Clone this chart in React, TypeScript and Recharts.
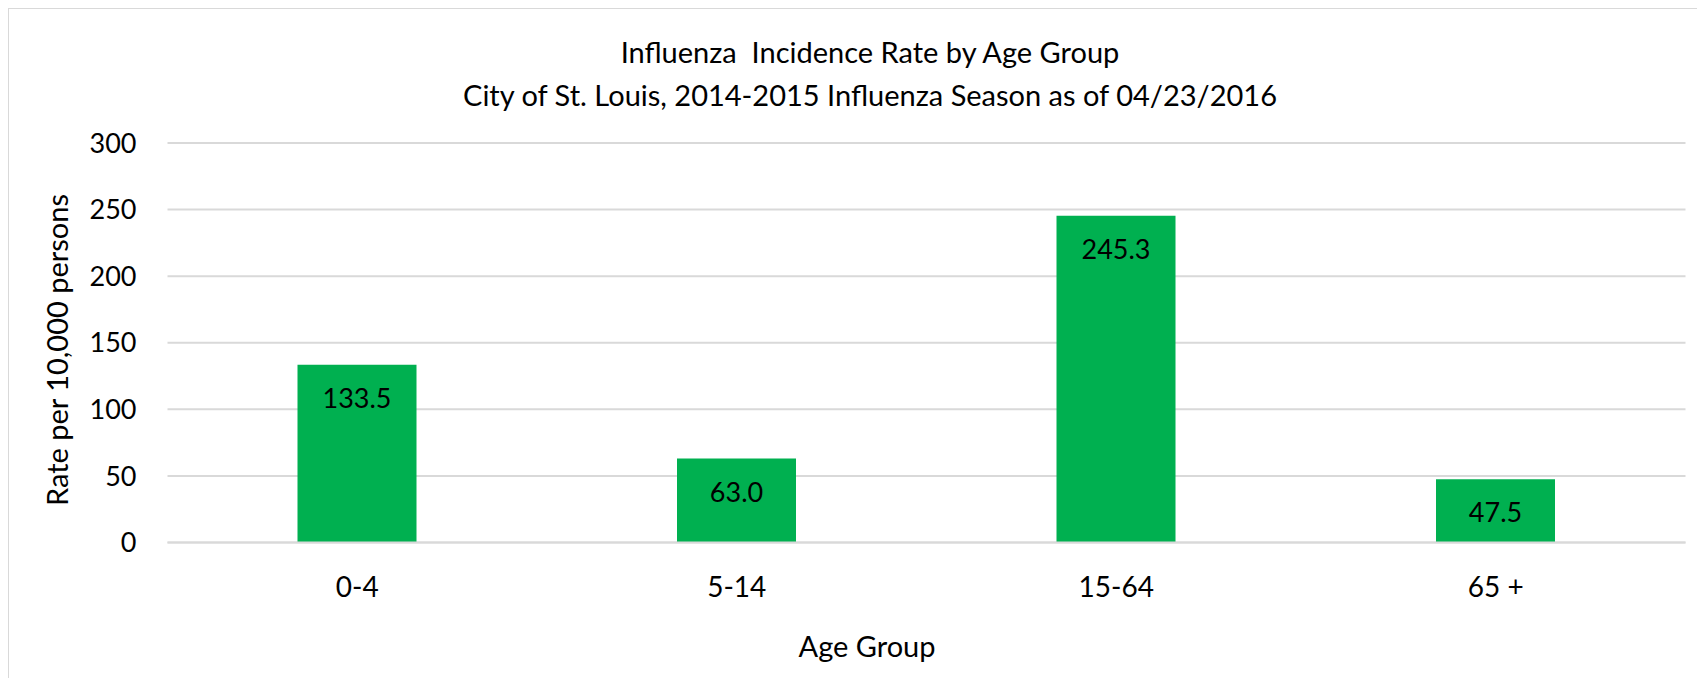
import React from 'react';
import { BarChart, Bar, XAxis, YAxis, CartesianGrid, LabelList } from 'recharts';

const ageGroups = ['0-4', '5-14', '15-64', '65 +'];
const rates = [133.5, 63.0, 245.3, 47.5];
const yTicks = [0, 50, 100, 150, 200, 250, 300];

const data = ageGroups.map((group, i) => ({ group, rate: rates[i] }));

const FONT = 'Lato, "Open Sans", sans-serif';
const textStyle: React.CSSProperties = {
  position: 'absolute',
  fontFamily: FONT,
  fontSize: 29,
  color: '#000',
  whiteSpace: 'nowrap',
  lineHeight: 1,
};

export default function App() {
  return (
    <div
      style={{
        position: 'relative',
        width: 1696,
        height: 669,
        borderLeft: '1px solid #d9d9d9',
        borderTop: '1px solid #d9d9d9',
        background: '#fff',
        overflow: 'hidden',
      }}
    >
      <div style={{ ...textStyle, left: 861, top: 28, transform: 'translateX(-50%)' }}>
        Influenza&nbsp; Incidence Rate by Age Group
      </div>
      <div style={{ ...textStyle, left: 861, top: 71, transform: 'translateX(-50%)' }}>
        City of St. Louis, 2014-2015 Influenza Season as of 04/23/2016
      </div>
      <div
        style={{
          ...textStyle,
          left: 47,
          top: 341,
          transform: 'translate(-50%, -50%) rotate(-90deg)',
        }}
      >
        Rate per 10,000 persons
      </div>
      <div style={{ ...textStyle, left: 858, top: 636, transform: 'translate(-50%, -50%)' }}>
        Age Group
      </div>

      <BarChart
        width={1696}
        height={669}
        data={data}
        margin={{ top: 134, right: 19.5, bottom: 0, left: 58.5 }}
        style={{ position: 'absolute', left: 0, top: 0 }}
      >
        <CartesianGrid vertical={false} stroke="#d9d9d9" strokeWidth={2} />
        <XAxis
          dataKey="group"
          axisLine={{ stroke: '#d9d9d9', strokeWidth: 2 }}
          tickLine={false}
          tickSize={0}
          tickMargin={35}
          height={135.5}
          tick={{ fill: '#000', fontSize: 28, fontFamily: FONT }}
        />
        <YAxis
          domain={[0, 300]}
          ticks={yTicks}
          axisLine={false}
          tickLine={false}
          tickSize={0}
          tickMargin={31}
          width={100}
          tick={{ fill: '#000', fontSize: 27, fontFamily: FONT }}
        />
        <Bar dataKey="rate" fill="#00b050" barSize={119} isAnimationActive={false}>
          <LabelList
            dataKey="rate"
            position="insideTop"
            offset={24}
            formatter={(v: any) => Number(v).toFixed(1)}
            fill="#000"
            fontSize={27}
            fontFamily={FONT}
          />
        </Bar>
      </BarChart>
    </div>
  );
}
